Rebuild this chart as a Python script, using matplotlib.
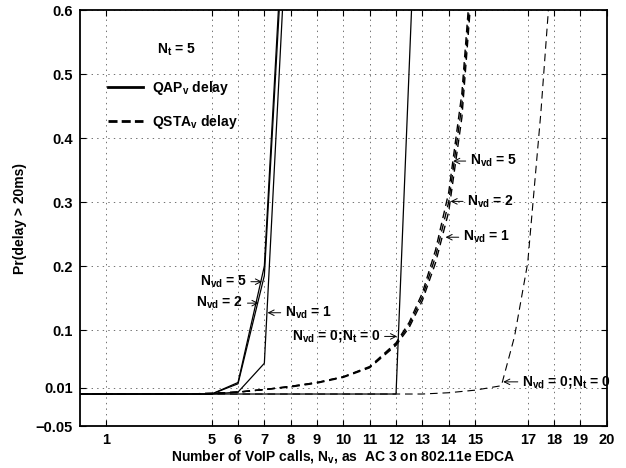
import matplotlib
matplotlib.use('Agg')
import matplotlib.pyplot as plt

plt.rcParams['font.family'] = ['Liberation Sans', 'DejaVu Sans']
plt.rcParams['font.weight'] = 'bold'
plt.rcParams['axes.labelweight'] = 'bold'
plt.rcParams['font.size'] = 10
plt.rcParams['mathtext.fontset'] = 'custom'
plt.rcParams['mathtext.bf'] = 'Liberation Sans:bold'
plt.rcParams['mathtext.rm'] = 'Liberation Sans:bold'
plt.rcParams['mathtext.it'] = 'Liberation Sans:bold'
plt.rcParams['mathtext.default'] = 'bf'
plt.rcParams['lines.scale_dashes'] = False

# QAP (solid) curves
qap_x = [0, 1, 2, 3, 4, 5, 6, 7, 8]
qap_nvd5 = [0, 0, 0, 0, 0, 0, 0.018, 0.200, 0.95]
qap_nvd2 = [0, 0, 0, 0, 0, 0, 0.016, 0.185, 0.92]
qap_nvd1 = [0, 0, 0, 0, 0, 0, 0.003, 0.048, 0.85]
qap0_x = [0, 1, 2, 3, 4, 5, 6, 7, 8, 9, 10, 11, 12, 13]
qap_nvd0 = [0, 0, 0, 0, 0, 0, 0, 0, 0, 0, 0, 0, 0, 1.02]

# QSTA (dashed) curves
qsta_x = [0, 1, 2, 3, 4, 5, 6, 7, 8, 9, 10, 11, 12, 12.5, 13, 13.5, 14, 14.5, 15]
qsta_nvd5 = [0, 0, 0, 0, 0, 0.001, 0.003, 0.007, 0.012, 0.018, 0.027, 0.043,
             0.080, 0.112, 0.158, 0.225, 0.315, 0.470, 0.74]
qsta_nvd2 = [0, 0, 0, 0, 0, 0.001, 0.003, 0.007, 0.012, 0.018, 0.027, 0.042,
             0.078, 0.108, 0.152, 0.215, 0.300, 0.452, 0.72]
qsta_nvd1 = [0, 0, 0, 0, 0, 0.001, 0.003, 0.007, 0.011, 0.017, 0.026, 0.041,
             0.076, 0.104, 0.146, 0.205, 0.285, 0.432, 0.70]
qsta0_x = [0, 1, 2, 3, 4, 5, 6, 7, 8, 9, 10, 11, 12, 13, 14, 15, 16, 16.5, 17, 17.5, 18]
qsta_nvd0 = [0, 0, 0, 0, 0, 0, 0, 0, 0, 0, 0, 0, 0, 0, 0.002, 0.006, 0.013,
             0.090, 0.205, 0.440, 0.72]

xticks = [1, 5, 6, 7, 8, 9, 10, 11, 12, 13, 14, 15, 17, 18, 19, 20]
yticks = [-0.05, 0.01, 0.1, 0.2, 0.3, 0.4, 0.5, 0.6]
ytick_labels = ['\u22120.05', '0.01', '0.1', '0.2', '0.3', '0.4', '0.5', '0.6']

fig = plt.figure(figsize=(6.26, 4.68), dpi=100)
ax = fig.add_axes([0.1278, 0.0897, 0.8414, 0.8889])

dash = (5.5, 3.5)
l1, = ax.plot(qap_x, qap_nvd5, 'k-', lw=0.9)
ax.plot(qap_x, qap_nvd2, 'k-', lw=0.9)
ax.plot(qap_x, qap_nvd1, 'k-', lw=0.9)
ax.plot(qap0_x, qap_nvd0, 'k-', lw=0.9)
l2, = ax.plot(qsta_x, qsta_nvd5, 'k--', lw=1.0, dashes=dash)
ax.plot(qsta_x, qsta_nvd2, 'k--', lw=1.0, dashes=dash)
ax.plot(qsta_x, qsta_nvd1, 'k--', lw=1.0, dashes=dash)
ax.plot(qsta0_x, qsta_nvd0, 'k--', lw=0.8, dashes=dash)

ax.set_xlim(0, 20)
ax.set_ylim(-0.05, 0.6)
ax.set_xticks(xticks, labels=[str(t) for t in xticks], fontweight='bold', fontsize=10.5)
ax.set_yticks(yticks, labels=ytick_labels, fontweight='bold', fontsize=10.5)
ax.grid(True, color='0.35', linestyle=(0, (1, 3)), linewidth=0.6)
ax.tick_params(direction='in', top=True, right=True, length=4, width=0.8, pad=5)
for s in ax.spines.values():
    s.set_linewidth(1.3)

ax.set_xlabel('Number of VoIP calls, $N_v$, as  AC 3 on 802.11e EDCA',
              labelpad=1, fontweight='bold')
ax.set_ylabel('Pr(delay > 20ms)', labelpad=6, fontweight='bold')

ax.text(2.93, 0.5375, '$N_t$ = 5', ha='left', va='center')

leg = ax.legend([l1, l2], ['QAP$_v$ delay', 'QSTA$_v$ delay'], loc='upper left',
                bbox_to_anchor=(0.053, 0.835), frameon=False, borderpad=0,
                borderaxespad=0, handlelength=2.5, handletextpad=0.7,
                labelspacing=1.2)
for ln in leg.get_lines():
    ln.set_linewidth(2)
leg.get_lines()[1].set_dashes((6.5, 3))

arr = dict(arrowstyle='->', lw=0.7, color='k', shrinkA=1, shrinkB=0)
# arrows pointing right (text on the left)
ax.annotate('$N_{vd}$ = 5', xy=(6.91, 0.1755), xytext=(-11, 0),
            textcoords='offset points', ha='right', va='center', arrowprops=arr)
ax.annotate('$N_{vd}$ = 2', xy=(6.78, 0.142), xytext=(-11, 0),
            textcoords='offset points', ha='right', va='center', arrowprops=arr)
ax.annotate('$N_{vd}$ = 0;$N_t$ = 0', xy=(12.04, 0.09), xytext=(-12, 0),
            textcoords='offset points', ha='right', va='center', arrowprops=arr)
# arrows pointing left (text on the right)
ax.annotate('$N_{vd}$ = 1', xy=(7.12, 0.127), xytext=(12.5, 0),
            textcoords='offset points', ha='left', va='center', arrowprops=arr)
ax.annotate('$N_{vd}$ = 5', xy=(14.17, 0.364), xytext=(12, 0),
            textcoords='offset points', ha='left', va='center', arrowprops=arr)
ax.annotate('$N_{vd}$ = 2', xy=(14.07, 0.301), xytext=(12, 0),
            textcoords='offset points', ha='left', va='center', arrowprops=arr)
ax.annotate('$N_{vd}$ = 1', xy=(13.88, 0.245), xytext=(12.5, 0),
            textcoords='offset points', ha='left', va='center', arrowprops=arr)
ax.annotate('$N_{vd}$ = 0;$N_t$ = 0', xy=(16.07, 0.019), xytext=(13.5, 0),
            textcoords='offset points', ha='left', va='center', arrowprops=arr)

fig.savefig('out.png', dpi=100)
